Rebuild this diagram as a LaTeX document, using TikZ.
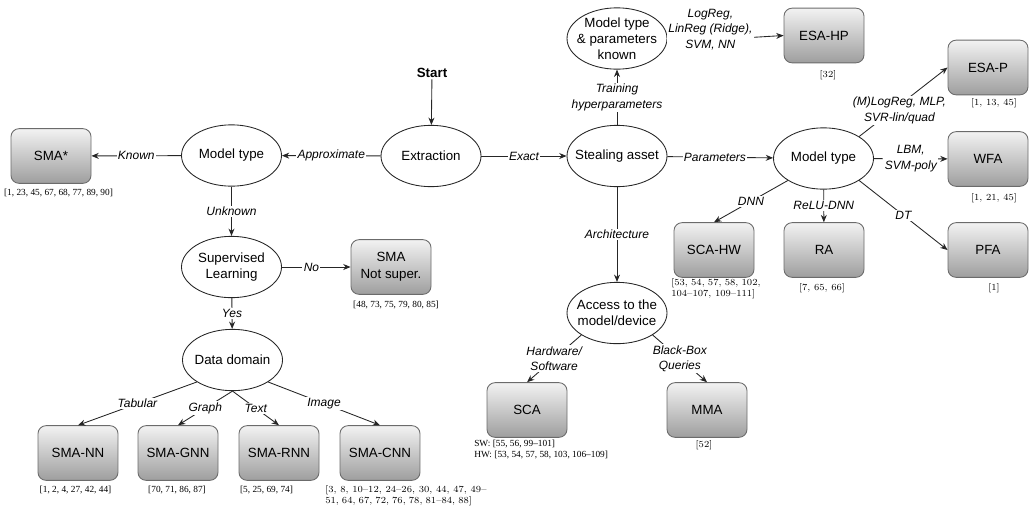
\documentclass[tikz,border=0pt]{standalone}
\usepackage{fontspec}
\setsansfont{Liberation Sans}
\newfontfamily\timesf{Liberation Serif}
\usetikzlibrary{shapes.geometric,arrows.meta}
\begin{document}
\begin{tikzpicture}[x=0.75pt,y=-0.75pt,
  ell/.style={ellipse, draw=black!85, line width=0.65pt, minimum width=75pt, minimum height=46pt,
    inner xsep=-40pt, inner ysep=-40pt, font=\sffamily\fontsize{10}{12}\selectfont, align=center},
  boxn/.style={rectangle, rounded corners=6pt, draw=black!58, line width=0.65pt,
    top color=black!5, bottom color=black!38, minimum width=60pt, minimum height=41pt,
    inner sep=1pt, font=\sffamily\fontsize{10}{12.5}\selectfont, align=center},
  lbl/.style={font=\sffamily\itshape\fontsize{9}{11.6}\selectfont, fill=white, inner sep=1pt, align=center},
  reft/.style={font=\timesf\fontsize{7}{8.3}\selectfont, inner sep=0pt, align=left},
  refc/.style={font=\rmfamily\fontsize{7}{8.3}\selectfont, inner sep=0pt, align=left},
  arr/.style={-{Stealth[length=5.5pt,width=4.5pt]}, line width=0.65pt, draw=black!85}]
\useasboundingbox (0,0) rectangle (1031,508);

% ellipses
\node[font=\sffamily\bfseries\fontsize{10}{12}\selectfont, inner sep=1pt] (start) at (432,73) {Start};
\node[ell] (ext)  at (431,156)   {Extraction};
\node[ell] (sa)   at (617,156)   {Stealing asset};
\node[ell] (mtpk) at (617,38.5)  {Model type\\\& parameters\\known};
\node[ell] (mtr)  at (823.5,158.5) {Model type};
\node[ell] (acc)  at (617,313)   {Access to the\\model/device};
\node[ell] (mtl)  at (231.5,155.5) {Model type};
\node[ell] (sl)   at (231.5,267) {Supervised\\Learning};
\node[ell] (dd)   at (232.5,360) {Data domain};

% boxes
\node[boxn] (smastar) at (51,156)  {SMA*};
\node[boxn] (smans)   at (391,267) {SMA\\Not super.};
\node[boxn] (nn)      at (78,453)  {SMA-NN};
\node[boxn] (gnn)     at (178,453) {SMA-GNN};
\node[boxn] (rnn)     at (279,453) {SMA-RNN};
\node[boxn] (cnn)     at (380,453) {SMA-CNN};
\node[boxn] (sca)     at (527,410) {SCA};
\node[boxn] (mma)     at (707,410) {MMA};
\node[boxn] (esahp)   at (824,35.5) {ESA-HP};
\node[boxn] (esap)    at (988,67.5) {ESA-P};
\node[boxn] (wfa)     at (988,159) {WFA};
\node[boxn] (pfa)     at (988,250) {PFA};
\node[boxn] (ra)      at (824,250) {RA};
\node[boxn] (scahw)   at (714,250) {SCA-HW};

% references
\node[reft] (r1) at (58.5,193) {[1, 23, 45, 67, 68, 77, 89, 90]};
\node[reft] (r2) at (396,305) {[48, 73, 75, 79, 80, 85]};
\node[reft] (r3) at (75.5,490) {[1, 2, 4, 27, 42, 44]};
\node[reft] (r4) at (177,490) {[70, 71, 86, 87]};
\node[reft] (r5) at (266.5,490) {[5, 25, 69, 74]};
\node[refc, anchor=north west] (r6) at (325,485) {\makebox[121pt][s]{[3, 8, 10–12, 24–26, 30, 44, 47, 49–}\\\makebox[110pt][s]{51, 64, 67, 72, 76, 78, 81–84, 88]}};
\node[reft, anchor=north west] (r7) at (474,440) {SW: [55, 56, 99–101]\\HW: [53, 54, 57, 58, 103, 106–109]};
\node[refc] (r8) at (704,445) {[52]};
\node[refc] (r9) at (828,75) {[32]};
\node[refc] (r10) at (994,103) {[1, 13, 45]};
\node[refc] (r11) at (994,198) {[1, 21, 45]};
\node[refc] (r12) at (994,288) {[1]};
\node[refc] (r13) at (822,288) {[7, 65, 66]};
\node[refc, anchor=north west] (r14) at (671,278) {\makebox[67pt][s]{[53, 54, 57, 58, 102,}\\104–107, 109–111]};

% connectors
\draw[arr] (start) -- (ext);
\draw[arr] (ext) -- node[lbl]{Approximate} (mtl);
\draw[arr] (ext) -- node[lbl]{Exact} (sa);
\draw[arr] (mtl) -- node[lbl]{Known} (smastar);
\draw[arr] (mtl) -- node[lbl]{Unknown} (sl);
\draw[arr] (sl) -- node[lbl, pos=0.43]{No} (smans);
\draw[arr] (sl) -- node[lbl]{Yes} (dd);
\draw[arr] (dd.south west) -- node[lbl]{Tabular} (nn.north);
\draw[arr] (dd.south) -- node[lbl]{Graph} (gnn.north);
\draw[arr] (dd.south) -- node[lbl]{Text} (rnn.north);
\draw[arr] (dd.south east) -- node[lbl]{Image} (cnn.north);
\draw[arr] (sa) -- node[lbl]{Training\\hyperparameters} (mtpk);
\draw[arr] ([yshift=-3pt]mtpk.east) -- node[lbl, pos=0.37, yshift=8pt]{LogReg,\\LinReg (Ridge),\\SVM, NN} (esahp.west);
\draw[arr] (sa) -- node[lbl]{Architecture} (acc);
\draw[arr] (acc.south west) -- node[lbl]{Hardware/\\Software} (sca.north);
\draw[arr] (acc.south east) -- node[lbl]{Black-Box\\Queries} (mma.north);
\draw[arr] (sa) -- node[lbl, pos=0.45]{Parameters} (mtr);
\draw[arr] (mtr.north east) -- node[lbl, pos=0.38, xshift=5pt]{(M)LogReg, MLP,\\SVR-lin/quad} (esap.west);
\draw[arr] (mtr) -- node[lbl]{LBM,\\SVM-poly} (wfa);
\draw[arr] (mtr.south west) -- node[lbl]{DNN} (scahw.north);
\draw[arr] (mtr) -- node[lbl]{ReLU-DNN} (ra);
\draw[arr] (mtr.south east) -- node[lbl]{DT} (pfa.west);
\end{tikzpicture}
\end{document}
